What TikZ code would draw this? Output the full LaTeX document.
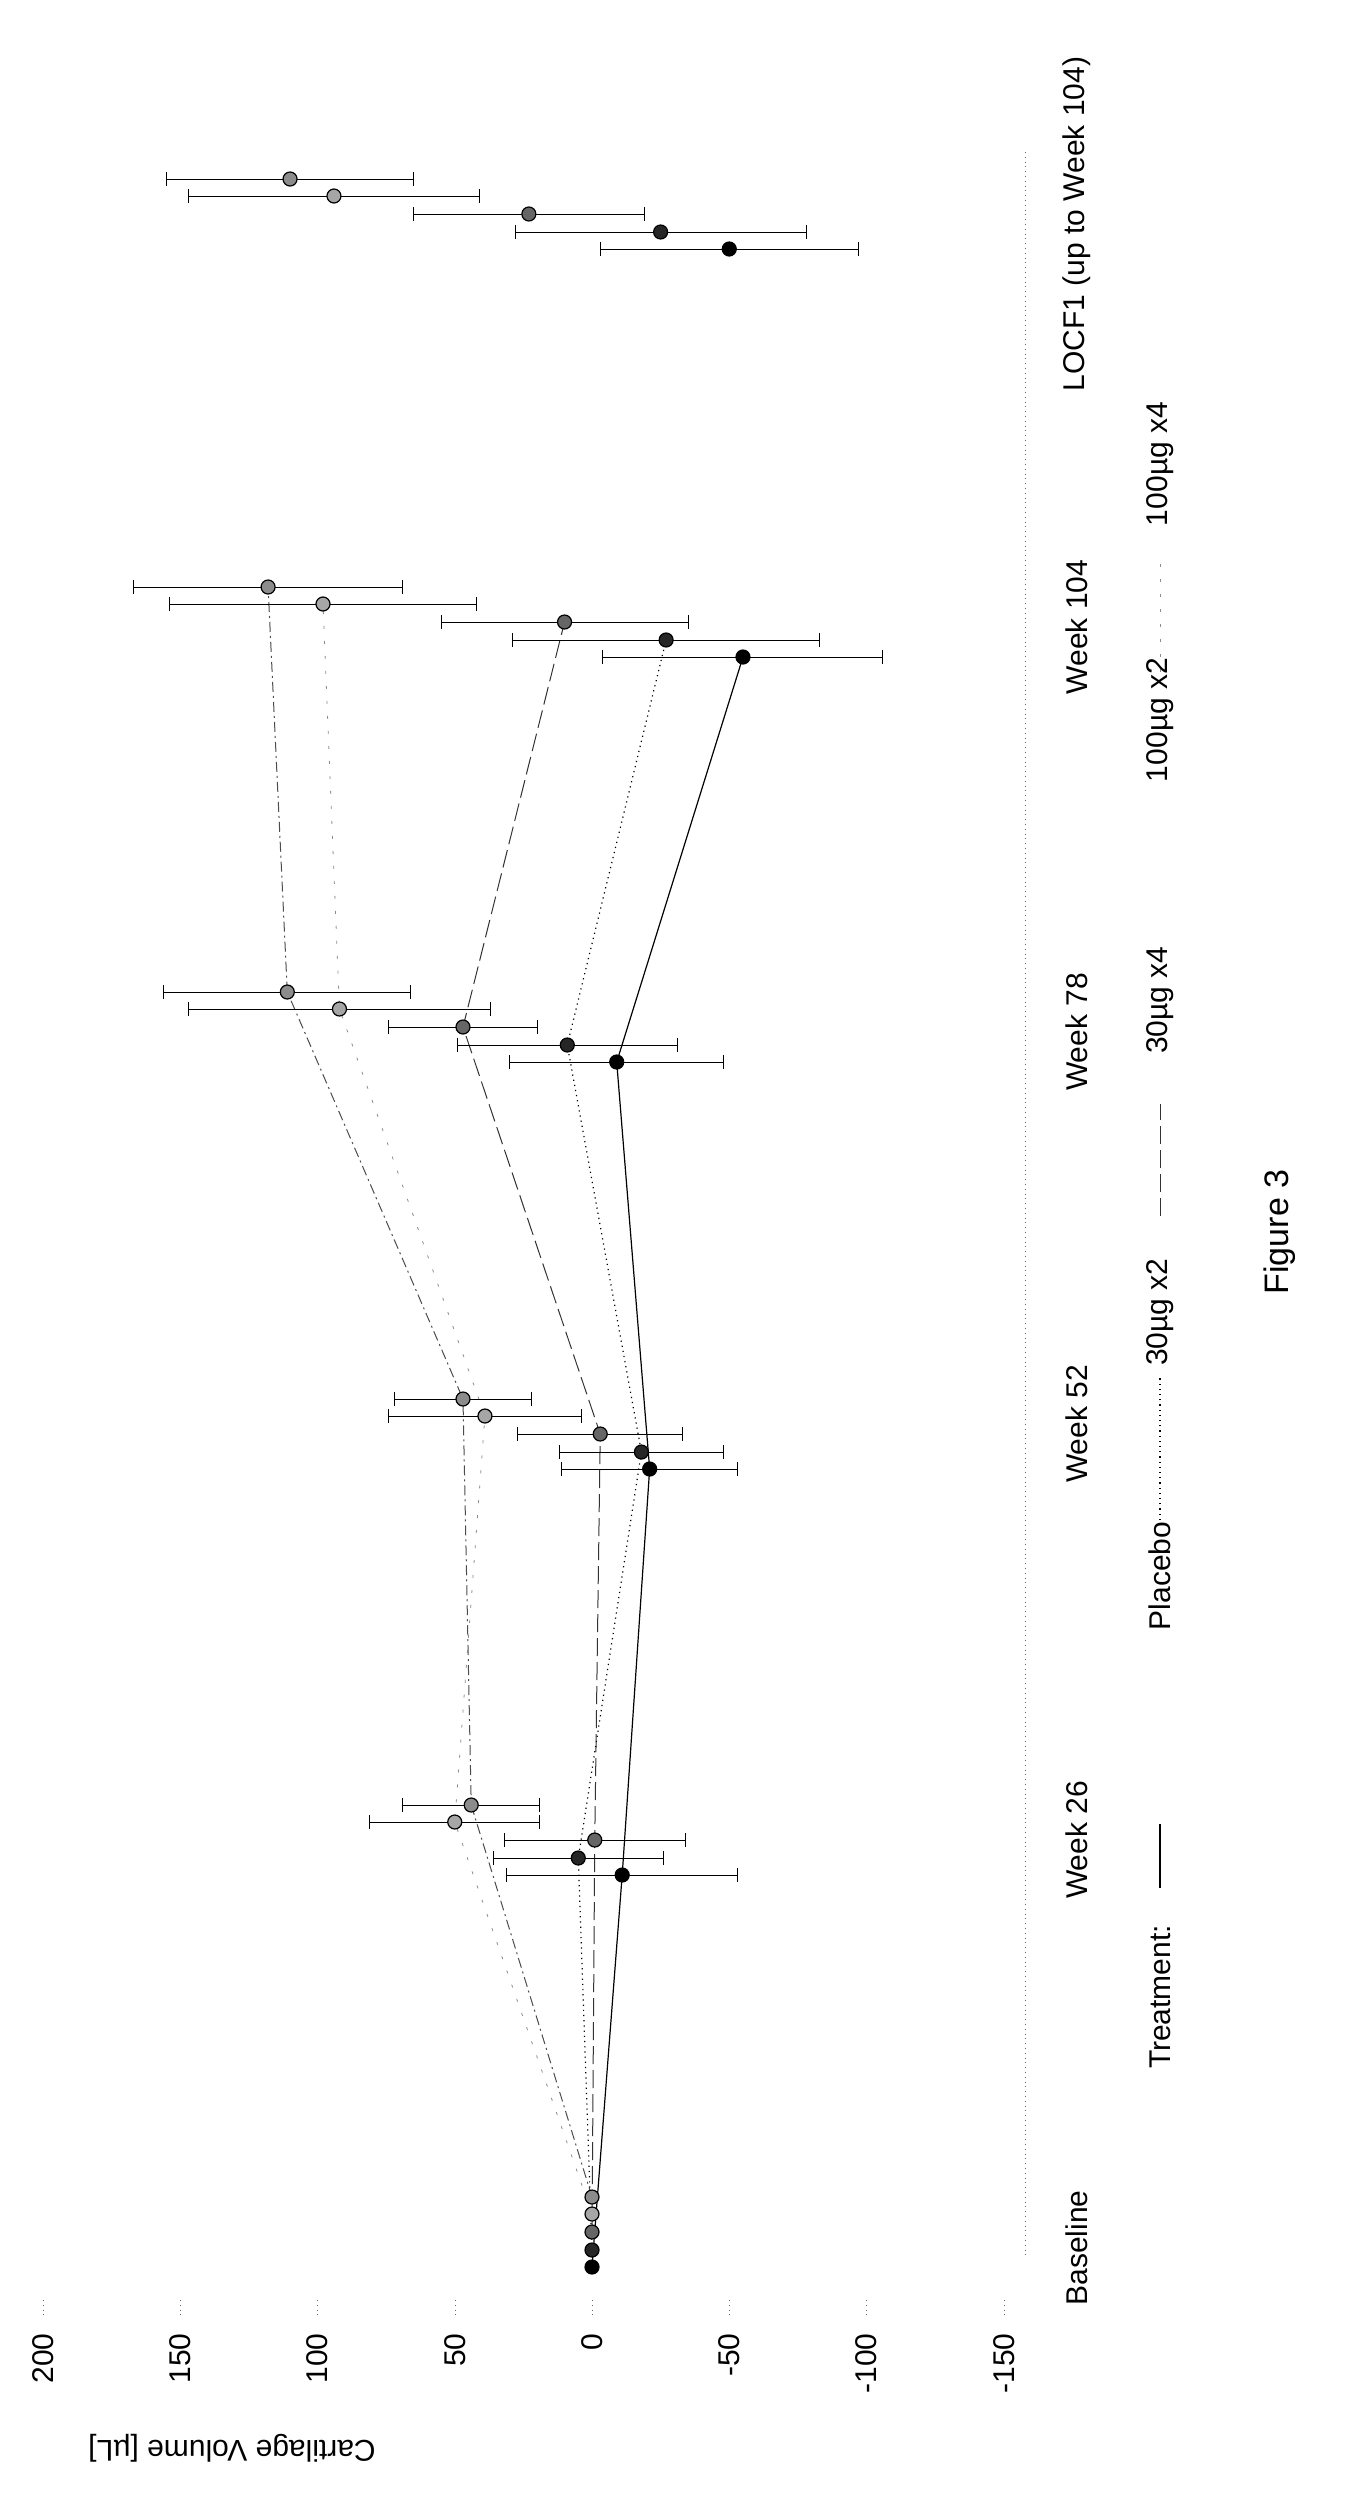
\documentclass[tikz,border=0pt]{standalone}
\usepackage{fontspec}
\setmainfont{Liberation Sans}
\newcommand\ebar[3]{%
  \draw[line width=0.5pt] ({592-2.745*((#2)-(#3))},#1) -- ({592-2.745*((#2)+(#3))},#1);
  \draw[line width=0.5pt] ({592-2.745*((#2)-(#3))},#1-7) -- ({592-2.745*((#2)-(#3))},#1+7);
  \draw[line width=0.5pt] ({592-2.745*((#2)+(#3))},#1-7) -- ({592-2.745*((#2)+(#3))},#1+7);
}
\begin{document}
\begin{tikzpicture}[x=0.5pt,y=-0.5pt,
  lbl/.style={font=\fontsize{15}{18}\selectfont,rotate=90,inner sep=0pt},
  pt/.style={circle,inner sep=0pt,minimum size=7pt,draw=black,line width=0.6pt},
  sPl/.style={black,line width=0.6pt},
  sA/.style={black,dotted,line width=0.6pt},
  sB/.style={black!80,dash pattern=on 9pt off 3pt,line width=0.5pt},
  sC/.style={black!45,dash pattern=on 1.5pt off 6pt,line width=0.4pt},
  sD/.style={black!70,dash pattern=on 5pt off 2pt on 1pt off 2pt,line width=0.5pt}]
\useasboundingbox (0,0) rectangle (1361,2511);
\draw[dotted,black!60] (1025,152) -- (1025,2256);
\draw[dotted,black!60] (43,2300) -- (43,2318);
\draw[dotted,black!60] (180,2300) -- (180,2318);
\draw[dotted,black!60] (317,2300) -- (317,2318);
\draw[dotted,black!60] (455,2300) -- (455,2318);
\draw[dotted,black!60] (592,2300) -- (592,2318);
\draw[dotted,black!60] (729,2300) -- (729,2318);
\draw[dotted,black!60] (866,2300) -- (866,2318);
\draw[dotted,black!60] (1004,2300) -- (1004,2318);
\node[lbl,anchor=east] (t1) at (43,2333) {200};
\node[lbl,anchor=east] (t2) at (180,2333) {150};
\node[lbl,anchor=east] (t3) at (317,2333) {100};
\node[lbl,anchor=east] (t4) at (455,2333) {50};
\node[lbl,anchor=east] (t5) at (592,2333) {0};
\node[lbl,anchor=east] (t6) at (729,2333) {-50};
\node[lbl,anchor=east] (t7) at (866,2333) {-100};
\node[lbl,anchor=east] (t8) at (1004,2333) {-150};
\node[font=\fontsize{15}{18}\selectfont,rotate=180] (yt) at (232,2448) {Cartilage Volume [µL]};
\node[lbl] (c0) at (1077,2248) {Baseline};
\node[lbl] (c1) at (1077,1840) {Week 26};
\node[lbl] (c2) at (1077,1424) {Week 52};
\node[lbl] (c3) at (1077,1032) {Week 78};
\node[lbl] (c4) at (1077,627) {Week 104};
\node[lbl] (c5) at (1077,224) {LOCF1 (up to Week 104)};
\node[lbl] (lt) at (1160,1997) {Treatment:};
\draw[sPl] (1160,1888) -- (1160,1824);
\node[lbl] (l1) at (1160,1576) {Placebo};
\draw[sA] (1160,1520) -- (1160,1376);
\node[lbl] (l2) at (1160,1312) {30µg x2};
\draw[sB] (1160,1216) -- (1160,1104);
\node[lbl] (l3) at (1160,1000) {30µg x4};
\draw[sC] (1160,672) -- (1160,560);
\node[lbl] (l4) at (1160,720) {100µg x2};
\node[lbl] (l5) at (1160,464) {100µg x4};
\node[lbl,font=\fontsize{17}{20}\selectfont] (fig) at (1280,1232) {Figure 3};
% series lines
\draw[sD] (592,2197) -- ({592-2.745*44},1805) -- ({592-2.745*47},1399) -- ({592-2.745*111},992) -- ({592-2.745*118},587);
\draw[sC] (592,2214) -- ({592-2.745*50},1822) -- ({592-2.745*39},1416) -- ({592-2.745*92},1009) -- ({592-2.745*98},604);
\draw[sB] (592,2232) -- ({592+2.745*1},1840) -- ({592+2.745*3},1434) -- ({592-2.745*47},1027) -- ({592-2.745*10},622);
\draw[sA] (592,2250) -- ({592-2.745*5},1858) -- ({592+2.745*18},1452) -- ({592-2.745*9},1045) -- ({592+2.745*27},640);
\draw[sPl] (592,2267) -- ({592+2.745*11},1875) -- ({592+2.745*21},1469) -- ({592+2.745*9},1062) -- ({592+2.745*55},657);
% error bars
\ebar{1805}{44}{25} \ebar{1399}{47}{25} \ebar{992}{111}{45} \ebar{587}{118}{49} \ebar{179}{110}{45}
\ebar{1822}{50}{31} \ebar{1416}{39}{35} \ebar{1009}{92}{55} \ebar{604}{98}{56} \ebar{196}{94}{53}
\ebar{1840}{-1}{33} \ebar{1434}{-3}{30} \ebar{1027}{47}{27} \ebar{622}{10}{45} \ebar{214}{23}{42}
\ebar{1858}{5}{31} \ebar{1452}{-18}{30} \ebar{1045}{9}{40} \ebar{640}{-27}{56} \ebar{232}{-25}{53}
\ebar{1875}{-11}{42} \ebar{1469}{-21}{32} \ebar{1062}{-9}{39} \ebar{657}{-55}{51} \ebar{249}{-50}{47}
% points
\node[pt,fill=black!45] (d0) at (592,2197) {};
\node[pt,fill=black!45] (d1) at ({592-2.745*44},1805) {};
\node[pt,fill=black!45] (d2) at ({592-2.745*47},1399) {};
\node[pt,fill=black!45] (d3) at ({592-2.745*111},992) {};
\node[pt,fill=black!45] (d4) at ({592-2.745*118},587) {};
\node[pt,fill=black!45] (d5) at ({592-2.745*110},179) {};
\node[pt,fill=black!35] (e0) at (592,2214) {};
\node[pt,fill=black!35] (e1) at ({592-2.745*50},1822) {};
\node[pt,fill=black!35] (e2) at ({592-2.745*39},1416) {};
\node[pt,fill=black!35] (e3) at ({592-2.745*92},1009) {};
\node[pt,fill=black!35] (e4) at ({592-2.745*98},604) {};
\node[pt,fill=black!35] (e5) at ({592-2.745*94},196) {};
\node[pt,fill=black!60] (b0) at (592,2232) {};
\node[pt,fill=black!60] (b1) at ({592+2.745*1},1840) {};
\node[pt,fill=black!60] (b2) at ({592+2.745*3},1434) {};
\node[pt,fill=black!60] (b3) at ({592-2.745*47},1027) {};
\node[pt,fill=black!60] (b4) at ({592-2.745*10},622) {};
\node[pt,fill=black!60] (b5) at ({592-2.745*23},214) {};
\node[pt,fill=black!85] (a0) at (592,2250) {};
\node[pt,fill=black!85] (a1) at ({592-2.745*5},1858) {};
\node[pt,fill=black!85] (a2) at ({592+2.745*18},1452) {};
\node[pt,fill=black!85] (a3) at ({592-2.745*9},1045) {};
\node[pt,fill=black!85] (a4) at ({592+2.745*27},640) {};
\node[pt,fill=black!85] (a5) at ({592+2.745*25},232) {};
\node[pt,fill=black] (p0) at (592,2267) {};
\node[pt,fill=black] (p1) at ({592+2.745*11},1875) {};
\node[pt,fill=black] (p2) at ({592+2.745*21},1469) {};
\node[pt,fill=black] (p3) at ({592+2.745*9},1062) {};
\node[pt,fill=black] (p4) at ({592+2.745*55},657) {};
\node[pt,fill=black] (p5) at ({592+2.745*50},249) {};
\end{tikzpicture}
\end{document}
